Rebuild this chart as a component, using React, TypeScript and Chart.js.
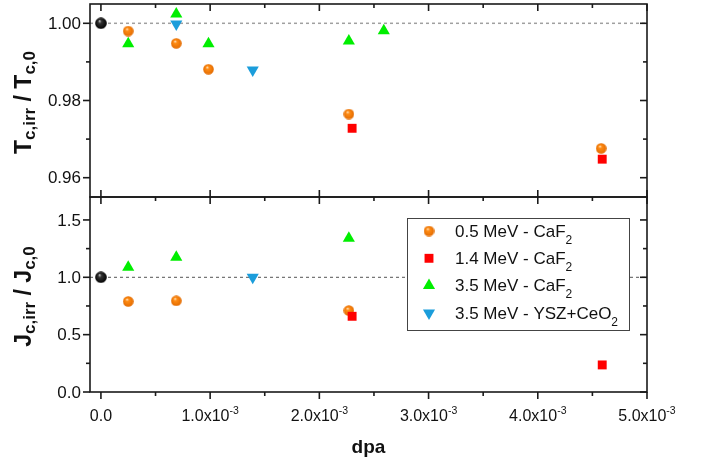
import React, { useEffect, useRef } from 'react';
import { Chart, registerables } from 'chart.js';
import { drawPoint } from 'chart.js/helpers';

Chart.register(...registerables);

const FONT = '"Liberation Sans", Arial, Helvetica, sans-serif';

// ---------------- data ----------------
const refDpa = [0];
const refTc = [1.0];
const refJc = [1.0];

const mev05TcDpa = [0.00025, 0.00069, 0.000985, 0.00227, 0.00458];
const mev05Tc = [0.998, 0.9948, 0.9881, 0.9765, 0.9676];
const mev05JcDpa = [0.00025, 0.00069, 0.00227];
const mev05Jc = [0.79, 0.795, 0.71];

const mev14TcDpa = [0.0023, 0.00459];
const mev14Tc = [0.9728, 0.9648];
const mev14JcDpa = [0.0023, 0.00459];
const mev14Jc = [0.66, 0.236];

const mev35TcDpa = [0.00025, 0.00069, 0.000985, 0.00227, 0.00259];
const mev35Tc = [0.9947, 1.0024, 0.9947, 0.9954, 0.9981];
const mev35JcDpa = [0.00025, 0.00069, 0.00227];
const mev35Jc = [1.087, 1.175, 1.34];

const yszTcDpa = [0.00069, 0.00139];
const yszTc = [0.9998, 0.9879];
const yszJcDpa = [0.00139];
const yszJc = [1.0];

const legendMain = ['0.5 MeV - CaF', '1.4 MeV - CaF', '3.5 MeV - CaF', '3.5 MeV - YSZ+CeO'];
const legendSub = ['2', '2', '2', '2'];

const xMajorTicks = [0, 0.001, 0.002, 0.003, 0.004, 0.005];
const xMinorTicks = [0.0005, 0.0015, 0.0025, 0.0035, 0.0045];
const xTickMain = ['0.0', '1.0x10', '2.0x10', '3.0x10', '4.0x10', '5.0x10'];
const xTickExp = ['', '-3', '-3', '-3', '-3', '-3'];
const xTitle = 'dpa';

const tcMajorTicks = [0.96, 0.98, 1.0];
const tcMinorTicks = [0.97, 0.99];
const tcTickLabels = ['0.96', '0.98', '1.00'];
const jcMajorTicks = [0, 0.5, 1.0, 1.5];
const jcMinorTicks = [0.25, 0.75, 1.25];
const jcTickLabels = ['0.0', '0.5', '1.0', '1.5'];

const tcTitle = [['T', 'main'], ['c,irr', 'sub'], [' / ', 'main'], ['T', 'main'], ['c,0', 'sub']];
const jcTitle = [['J', 'main'], ['c,irr', 'sub'], [' / ', 'main'], ['J', 'main'], ['c,0', 'sub']];

const X_MIN = -0.0001;
const X_MAX = 0.005;
const TC_MIN = 0.955;
const TC_MAX = 1.005;
const JC_MIN = 0;
const JC_MAX = 1.7;

// ---------------- helpers ----------------
function makeSphere(d: number, hi: string, mid: string, lo: string) {
  const c = document.createElement('canvas');
  c.width = d;
  c.height = d;
  const g = c.getContext('2d')!;
  const r = d / 2;
  const grad = g.createRadialGradient(r * 0.75, r * 0.6, 0, r, r, r);
  grad.addColorStop(0, hi);
  grad.addColorStop(0.3, mid);
  grad.addColorStop(1, lo);
  g.fillStyle = grad;
  g.beginPath();
  g.arc(r, r, r - 0.2, 0, Math.PI * 2);
  g.fill();
  return c;
}

type Part = { t: string; font: string; dy: number };

function richWidth(ctx: CanvasRenderingContext2D, parts: Part[]) {
  let w = 0;
  for (const p of parts) {
    ctx.font = p.font;
    w += ctx.measureText(p.t).width;
  }
  return w;
}

function drawRich(ctx: CanvasRenderingContext2D, parts: Part[], x: number, y: number, align: 'left' | 'center') {
  let cx = align === 'center' ? x - richWidth(ctx, parts) / 2 : x;
  ctx.textAlign = 'left';
  ctx.textBaseline = 'alphabetic';
  for (const p of parts) {
    ctx.font = p.font;
    ctx.fillText(p.t, cx, y + p.dy);
    cx += ctx.measureText(p.t).width;
  }
}

const toPts = (xs: number[], ys: number[]) => xs.map((x, i) => ({ x, y: ys[i] }));

type PanelCfg = {
  yMajor: number[];
  yMinor: number[];
  yLabels: string[];
  title: string[][];
  refColor: string;
  refWidth: number;
  topMinor: boolean;
  bottomOut: boolean;
  bottomMinor: boolean;
  showX: boolean;
  legend: boolean;
};

const axesPlugin = {
  id: 'originAxes',
  beforeDatasetsDraw(chart: any) {
    const o: PanelCfg = chart.options.plugins.originAxes;
    const { ctx, chartArea: a } = chart;
    const y = chart.scales.y.getPixelForValue(1.0);
    ctx.save();
    ctx.strokeStyle = o.refColor;
    ctx.lineWidth = o.refWidth;
    ctx.setLineDash([3, 3]);
    ctx.beginPath();
    ctx.moveTo(a.left, y);
    ctx.lineTo(a.right, y);
    ctx.stroke();
    ctx.restore();
  },
  afterDatasetsDraw(chart: any) {
    const o: PanelCfg = chart.options.plugins.originAxes;
    if (!o.legend) return;
    const { ctx, chartArea: a } = chart;
    const left = a.right - 18 - 222;
    const top = a.top + 21;
    ctx.save();
    ctx.fillStyle = '#ffffff';
    ctx.fillRect(left, top, 222, 112);
    ctx.strokeStyle = '#444';
    ctx.lineWidth = 1;
    ctx.strokeRect(left + 0.5, top + 0.5, 222, 112);
    const items = chart.data.datasets.filter((d: any) => d.legendIndex !== undefined);
    items.sort((p: any, q: any) => p.legendIndex - q.legendIndex);
    items.forEach((d: any, i: number) => {
      const cy = top + 13 + i * 27.3;
      ctx.fillStyle = d.backgroundColor;
      ctx.strokeStyle = d.backgroundColor;
      drawPoint(ctx, { pointStyle: d.pointStyle, rotation: d.rotation || 0, radius: d.pointRadius, borderWidth: 0 }, left + 22, cy);
      ctx.fillStyle = '#111';
      drawRich(
        ctx,
        [
          { t: legendMain[d.legendIndex], font: `17px ${FONT}`, dy: 0 },
          { t: legendSub[d.legendIndex], font: `12px ${FONT}`, dy: 7 },
        ],
        left + 48,
        cy + 5.8,
        'left'
      );
    });
    ctx.restore();
  },
  afterDraw(chart: any) {
    const o: PanelCfg = chart.options.plugins.originAxes;
    const { ctx, chartArea: a } = chart;
    const xs = chart.scales.x;
    const ys = chart.scales.y;
    ctx.save();
    ctx.strokeStyle = '#1a1a1a';
    ctx.fillStyle = '#1a1a1a';
    ctx.lineWidth = 1.6;
    ctx.setLineDash([]);
    ctx.strokeRect(a.left, a.top, a.right - a.left, a.bottom - a.top);
    const line = (x1: number, y1: number, x2: number, y2: number) => {
      ctx.beginPath();
      ctx.moveTo(x1, y1);
      ctx.lineTo(x2, y2);
      ctx.stroke();
    };
    const MAJ = 7;
    const MIN = 4;
    // x ticks
    for (const v of xMajorTicks) {
      const px = xs.getPixelForValue(v);
      line(px, a.top, px, a.top + MAJ);
      if (o.bottomOut) line(px, a.bottom, px, a.bottom + MAJ);
      else line(px, a.bottom, px, a.bottom - MAJ);
    }
    for (const v of xMinorTicks) {
      const px = xs.getPixelForValue(v);
      if (o.topMinor) line(px, a.top, px, a.top + MIN);
      if (o.bottomMinor) {
        if (o.bottomOut) line(px, a.bottom, px, a.bottom + MIN);
        else line(px, a.bottom, px, a.bottom - MIN);
      }
    }
    // y ticks
    for (const v of o.yMajor) {
      const py = ys.getPixelForValue(v);
      line(a.left, py, a.left - MAJ, py);
      line(a.right, py, a.right - MAJ, py);
    }
    for (const v of o.yMinor) {
      const py = ys.getPixelForValue(v);
      line(a.left, py, a.left - MIN, py);
      line(a.right, py, a.right - MIN, py);
    }
    // y tick labels
    ctx.fillStyle = '#111';
    ctx.font = `17px ${FONT}`;
    ctx.textAlign = 'right';
    ctx.textBaseline = 'middle';
    o.yMajor.forEach((v, i) => {
      ctx.fillText(o.yLabels[i], a.left - 9, ys.getPixelForValue(v) + 1);
    });
    // y title
    ctx.save();
    ctx.translate(31, (a.top + a.bottom) / 2 + 2);
    ctx.rotate(-Math.PI / 2);
    drawRich(
      ctx,
      o.title.map(([t, k]) =>
        k === 'main'
          ? { t, font: `bold 23px ${FONT}`, dy: 0 }
          : { t, font: `bold 17px ${FONT}`, dy: 4 }
      ),
      0,
      0,
      'center'
    );
    ctx.restore();
    // x tick labels and title
    if (o.showX) {
      xMajorTicks.forEach((v, i) => {
        const px = xs.getPixelForValue(v);
        const parts: Part[] = [{ t: xTickMain[i], font: `16px ${FONT}`, dy: 0 }];
        if (xTickExp[i]) parts.push({ t: xTickExp[i], font: `10.5px ${FONT}`, dy: -7 });
        drawRich(ctx, parts, px, a.bottom + 29, 'center');
      });
      ctx.font = `bold 19px ${FONT}`;
      ctx.textAlign = 'center';
      ctx.textBaseline = 'alphabetic';
      ctx.fillText(xTitle, (a.left + a.right) / 2, 453);
    }
    ctx.restore();
  },
};

function buildConfig(panel: 'tc' | 'jc', orange: HTMLCanvasElement, black: HTMLCanvasElement) {
  const isTc = panel === 'tc';
  const data05 = isTc ? toPts(mev05TcDpa, mev05Tc) : toPts(mev05JcDpa, mev05Jc);
  const data14 = isTc ? toPts(mev14TcDpa, mev14Tc) : toPts(mev14JcDpa, mev14Jc);
  const data35 = isTc ? toPts(mev35TcDpa, mev35Tc) : toPts(mev35JcDpa, mev35Jc);
  const dataYsz = isTc ? toPts(yszTcDpa, yszTc) : toPts(yszJcDpa, yszJc);
  const dataRef = isTc ? toPts(refDpa, refTc) : toPts(refDpa, refJc);
  const cfg: PanelCfg = isTc
    ? {
        yMajor: tcMajorTicks,
        yMinor: tcMinorTicks,
        yLabels: tcTickLabels,
        title: tcTitle,
        refColor: '#a0a0a0',
        refWidth: 1.5,
        topMinor: true,
        bottomOut: false,
        bottomMinor: false,
        showX: false,
        legend: false,
      }
    : {
        yMajor: jcMajorTicks,
        yMinor: jcMinorTicks,
        yLabels: jcTickLabels,
        title: jcTitle,
        refColor: '#555555',
        refWidth: 1,
        topMinor: true,
        bottomOut: true,
        bottomMinor: true,
        showX: true,
        legend: true,
      };
  return {
    type: 'scatter' as const,
    data: {
      datasets: [
        { data: dataRef, pointStyle: black, pointRadius: 6, backgroundColor: '#000', order: 0 },
        { data: data05, legendIndex: 0, pointStyle: orange, pointRadius: 5.5, backgroundColor: '#ff8a10', order: 4 },
        { data: data14, legendIndex: 1, pointStyle: 'rect', pointRadius: 6.3, backgroundColor: '#ff0000', borderWidth: 0, order: 3 },
        { data: data35, legendIndex: 2, pointStyle: 'triangle', pointRadius: 7, backgroundColor: '#00ee00', borderWidth: 0, order: 2 },
        { data: dataYsz, legendIndex: 3, pointStyle: 'triangle', rotation: 180, pointRadius: 7, backgroundColor: '#1b9ddb', borderWidth: 0, order: 1 },
      ] as any[],
    },
    options: {
      animation: false as const,
      responsive: false,
      events: [],
      layout: {
        autoPadding: false,
        padding: isTc ? { left: 90, right: 58, top: 4, bottom: 262 } : { left: 90, right: 58, top: 197, bottom: 67 },
      },
      scales: {
        x: { type: 'linear' as const, min: X_MIN, max: X_MAX, display: false },
        y: { type: 'linear' as const, min: isTc ? TC_MIN : JC_MIN, max: isTc ? TC_MAX : JC_MAX, display: false },
      },
      plugins: {
        legend: { display: false },
        tooltip: { enabled: false },
        originAxes: cfg,
      },
    } as any,
    plugins: [axesPlugin],
  };
}

export default function App() {
  const topRef = useRef<HTMLCanvasElement>(null);
  const botRef = useRef<HTMLCanvasElement>(null);
  useEffect(() => {
    const orange = makeSphere(11, '#fff3dc', '#ff8c14', '#e26a00');
    const black = makeSphere(12, '#d8d8d8', '#333333', '#000000');
    const c2 = new Chart(botRef.current!, buildConfig('jc', orange, black) as any);
    const c1 = new Chart(topRef.current!, buildConfig('tc', orange, black) as any);
    return () => {
      c1.destroy();
      c2.destroy();
    };
  }, []);
  const cs: React.CSSProperties = { position: 'absolute', left: 0, top: 0, width: 705, height: 459 };
  return (
    <div style={{ position: 'fixed', left: 0, top: 0, width: 705, height: 459, background: '#fff' }}>
      <canvas ref={botRef} width={705} height={459} style={cs} />
      <canvas ref={topRef} width={705} height={459} style={cs} />
    </div>
  );
}
